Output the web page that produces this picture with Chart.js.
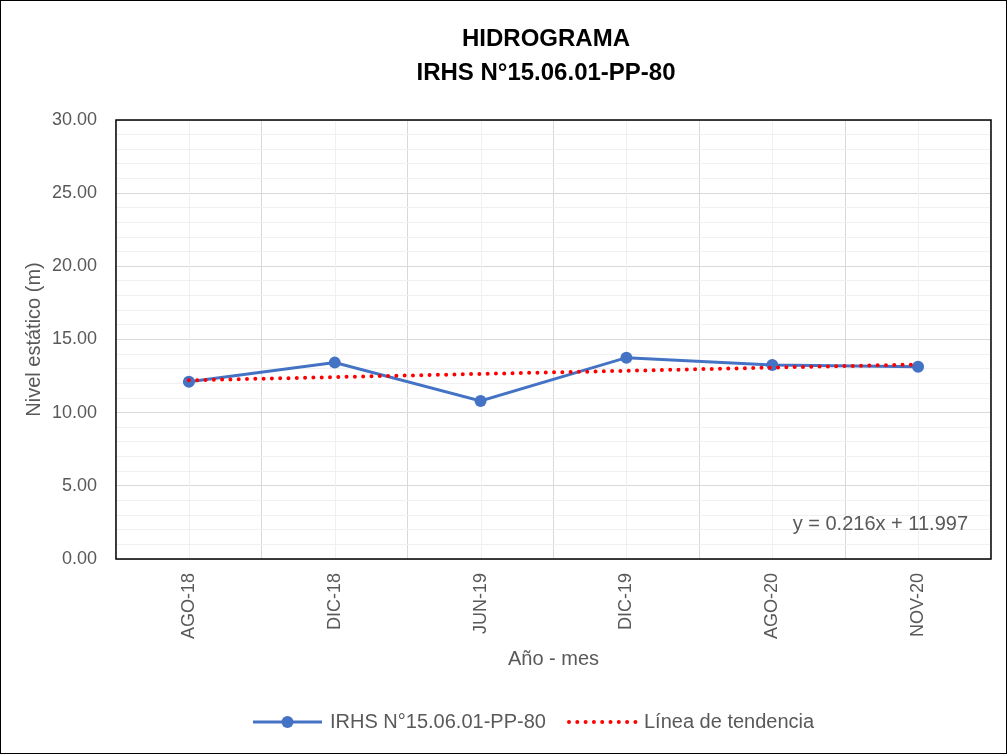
<!DOCTYPE html>
<html>
<head>
<meta charset="utf-8">
<script src="https://cdn.jsdelivr.net/npm/chart.js@4"></script>
<style>
  html, body { margin: 0; padding: 0; background: #fff; }
  #wrap { width: 1007px; height: 754px; position: relative; }
</style>
</head>
<body>
<div id="wrap"><canvas id="hidroChart" width="1007" height="754"></canvas></div>
<script>
// data
const months = ['AGO-18', 'DIC-18', 'JUN-19', 'DIC-19', 'AGO-20', 'NOV-20'];
const nivelEstatico = [12.12, 13.42, 10.80, 13.76, 13.26, 13.14];
const tendencia = [12.21, 12.43, 12.65, 12.86, 13.08, 13.29];
const titleLines = ['HIDROGRAMA', 'IRHS N°15.06.01-PP-80'];
const seriesName = 'IRHS N°15.06.01-PP-80';
const trendName = 'Línea de tendencia';
const trendLabel = 'y = 0.216x + 11.997';

const FONT = "'Liberation Sans', Arial, sans-serif";
const GREY = '#595959';
const BLUE = '#4472C4';

// title, minor vertical lines at category centres, plot frame, equation and legend
const decorations = {
    id: 'decorations',
    beforeDatasetsDraw(chart) {
        const { ctx, chartArea: a, scales: { x } } = chart;
        ctx.save();
        ctx.strokeStyle = '#f0f0f0';
        ctx.lineWidth = 1;
        months.forEach((m, i) => {
            const px = Math.round(x.getPixelForValue(i)) + 0.5;
            ctx.beginPath();
            ctx.moveTo(px, a.top);
            ctx.lineTo(px, a.bottom);
            ctx.stroke();
        });
        ctx.restore();
    },
    afterDraw(chart) {
        const { ctx, chartArea: a } = chart;
        ctx.save();
        // title (sits a bit right of centre, like the original)
        ctx.fillStyle = '#000';
        ctx.font = `bold 24px ${FONT}`;
        ctx.textAlign = 'center';
        ctx.textBaseline = 'middle';
        ctx.fillText(titleLines[0], 546, 39);
        ctx.fillText(titleLines[1], 546, 73);

        // plot area frame
        ctx.strokeStyle = '#000';
        ctx.lineWidth = 1.5;
        ctx.strokeRect(a.left, a.top, a.right - a.left, a.bottom - a.top);
        // outer chart border
        ctx.lineWidth = 1;
        ctx.strokeRect(0.5, 0.5, chart.width - 1, chart.height - 1);

        // trendline equation
        ctx.fillStyle = GREY;
        ctx.font = `20px ${FONT}`;
        ctx.textAlign = 'right';
        ctx.fillText(trendLabel, 968, 524);

        // legend
        const ly = 722;
        ctx.textAlign = 'left';
        ctx.strokeStyle = BLUE;
        ctx.lineWidth = 3;
        ctx.beginPath();
        ctx.moveTo(253, ly);
        ctx.lineTo(322, ly);
        ctx.stroke();
        ctx.fillStyle = BLUE;
        ctx.beginPath();
        ctx.arc(287.5, ly, 6, 0, Math.PI * 2);
        ctx.fill();
        ctx.fillStyle = GREY;
        ctx.fillText(seriesName, 330, ly);

        ctx.strokeStyle = '#FF0000';
        ctx.lineWidth = 4;
        ctx.lineCap = 'round';
        ctx.setLineDash([0, 8.3]);
        ctx.beginPath();
        ctx.moveTo(569, ly);
        ctx.lineTo(636, ly);
        ctx.stroke();
        ctx.setLineDash([]);
        ctx.fillText(trendName, 644, ly);
        ctx.restore();
    }
};

const ctx = document.getElementById('hidroChart').getContext('2d');
new Chart(ctx, {
    type: 'line',
    data: {
        labels: months,
        datasets: [{
            label: seriesName,
            data: nivelEstatico,
            borderColor: BLUE,
            backgroundColor: BLUE,
            borderWidth: 3,
            pointRadius: 6,
            pointBackgroundColor: BLUE,
            pointBorderWidth: 0,
            tension: 0,
            order: 2
        }, {
            label: trendName,
            data: tendencia,
            borderColor: '#FF0000',
            borderWidth: 4,
            borderDash: [0, 8.3],
            borderCapStyle: 'round',
            pointRadius: 0,
            tension: 0,
            order: 1
        }]
    },
    options: {
        responsive: false,
        animation: false,
        layout: {
            padding: { top: 120, left: 0, right: 16, bottom: 60 }
        },
        plugins: {
            legend: { display: false },
            tooltip: { enabled: false },
            title: { display: false }
        },
        scales: {
            x: {
                offset: true,
                grid: {
                    offset: true,
                    color: '#d9d9d9',
                    drawTicks: false
                },
                border: { display: false },
                ticks: {
                    color: GREY,
                    font: { family: FONT, size: 18 },
                    minRotation: 90,
                    maxRotation: 90,
                    padding: 14
                },
                title: {
                    display: true,
                    text: 'Año - mes',
                    color: GREY,
                    font: { family: FONT, size: 20 },
                    padding: { top: 0, bottom: 23 }
                },
                afterFit(scale) { scale.height = 135; }
            },
            y: {
                min: 0,
                max: 30,
                grid: {
                    drawTicks: false,
                    color: (c) => (c.tick && c.tick.value % 5 === 0) ? '#d9d9d9' : '#f0f0f0'
                },
                border: { display: false },
                ticks: {
                    stepSize: 1,
                    autoSkip: false,
                    color: GREY,
                    font: { family: FONT, size: 18 },
                    padding: 19,
                    callback: (v) => v % 5 === 0 ? v.toFixed(2) : ''
                },
                title: {
                    display: true,
                    text: 'Nivel estático (m)',
                    color: GREY,
                    font: { family: FONT, size: 20 },
                    padding: { top: 22, bottom: 0 }
                },
                afterFit(scale) { scale.width = 116; }
            }
        }
    },
    plugins: [decorations]
});
</script>
</body>
</html>
